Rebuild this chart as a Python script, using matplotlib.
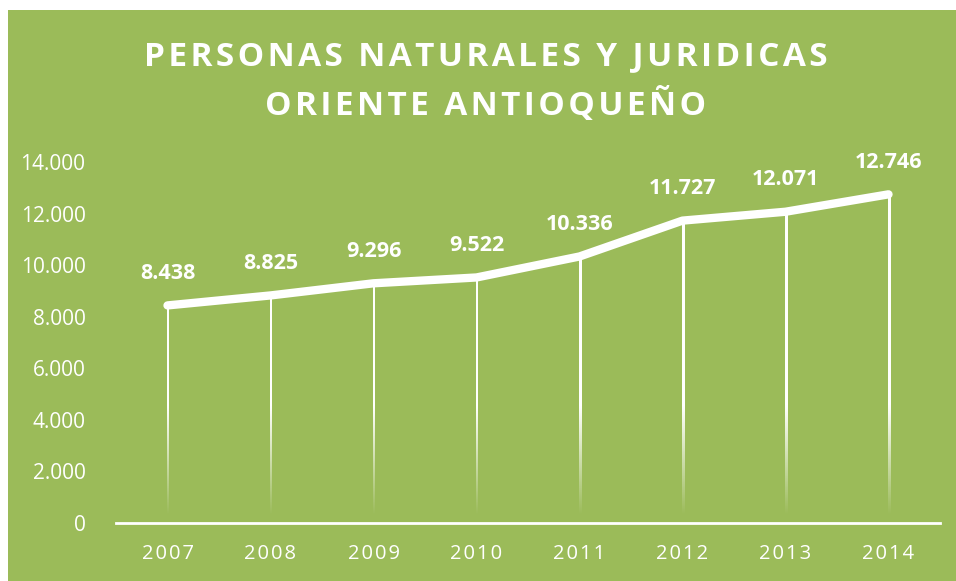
import numpy as np
import matplotlib.pyplot as plt

years = ['2007', '2008', '2009', '2010', '2011', '2012', '2013', '2014']
personas = [8438, 8825, 9296, 9522, 10336, 11727, 12071, 12746]
yticks = [0, 2000, 4000, 6000, 8000, 10000, 12000, 14000]
title_lines = ['PERSONAS NATURALES Y JURIDICAS', 'ORIENTE ANTIOQUEÑO']

green = '#9BBB59'
plt.rcParams['font.family'] = ['Open Sans', 'DejaVu Sans']
HAIR = '\u200a'


def fmt(v):
    return f'{v:,}'.replace(',', '.')


def spaced(s):
    return HAIR.join(s)


fig = plt.figure(figsize=(9.56, 5.81), dpi=100)
fig.patch.set_facecolor(green)
# white margin on top and left
fig.patches.append(plt.Rectangle((0, 1 - 10 / 581), 1, 1, transform=fig.transFigure,
                                 facecolor='white', edgecolor='none', zorder=-1))
fig.patches.append(plt.Rectangle((0, 0), 8 / 956, 1, transform=fig.transFigure,
                                 facecolor='white', edgecolor='none', zorder=-1))

ax = fig.add_axes([116 / 956, 1 - 523 / 581, 824 / 956, 361 / 581])
ax.set_facecolor('none')
x = np.arange(len(years))

# drop lines fading towards the axis (gradient image per line)
half_w = 1.0 / 103
for xi, v in zip(x, personas):
    ys = np.linspace(v, 0, 200)
    alpha = np.clip((ys - 300) / 4200, 0, 1)
    img = np.ones((200, 1, 4))
    img[:, 0, 3] = alpha
    ax.imshow(img, extent=(xi - half_w, xi + half_w, 0, v), aspect='auto',
              interpolation='bilinear', zorder=2)

ax.plot(x, personas, color='white', lw=6, solid_capstyle='round', solid_joinstyle='round', zorder=3)

for xi, v in zip(x, personas):
    ax.text(xi, v + 1250, fmt(v), ha='center', va='center', color='white',
            fontsize=15.5, fontweight='bold')

ax.set_xlim(-0.5, len(years) - 0.5)
ax.set_ylim(0, 14000)
ax.set_xticks(x)
ax.set_xticklabels([spaced(y) for y in years], fontsize=14.5, color='white')
ax.set_yticks(yticks)
ax.set_yticklabels([fmt(t) for t in yticks], fontsize=15, color='white')
ax.tick_params(length=0)
ax.tick_params(axis='x', pad=15)
ax.tick_params(axis='y', pad=22)
for s in ['top', 'right', 'left']:
    ax.spines[s].set_visible(False)
ax.spines['bottom'].set_color('white')
ax.spines['bottom'].set_linewidth(2)

fig.text(0.508, 1 - 57 / 581, spaced(title_lines[0]), ha='center', va='center', color='white',
         fontsize=24, fontweight='bold')
fig.text(0.508, 1 - 105 / 581, spaced(title_lines[1]), ha='center', va='center', color='white',
         fontsize=24, fontweight='bold')

fig.savefig('out.png', dpi=100, facecolor=fig.get_facecolor())
